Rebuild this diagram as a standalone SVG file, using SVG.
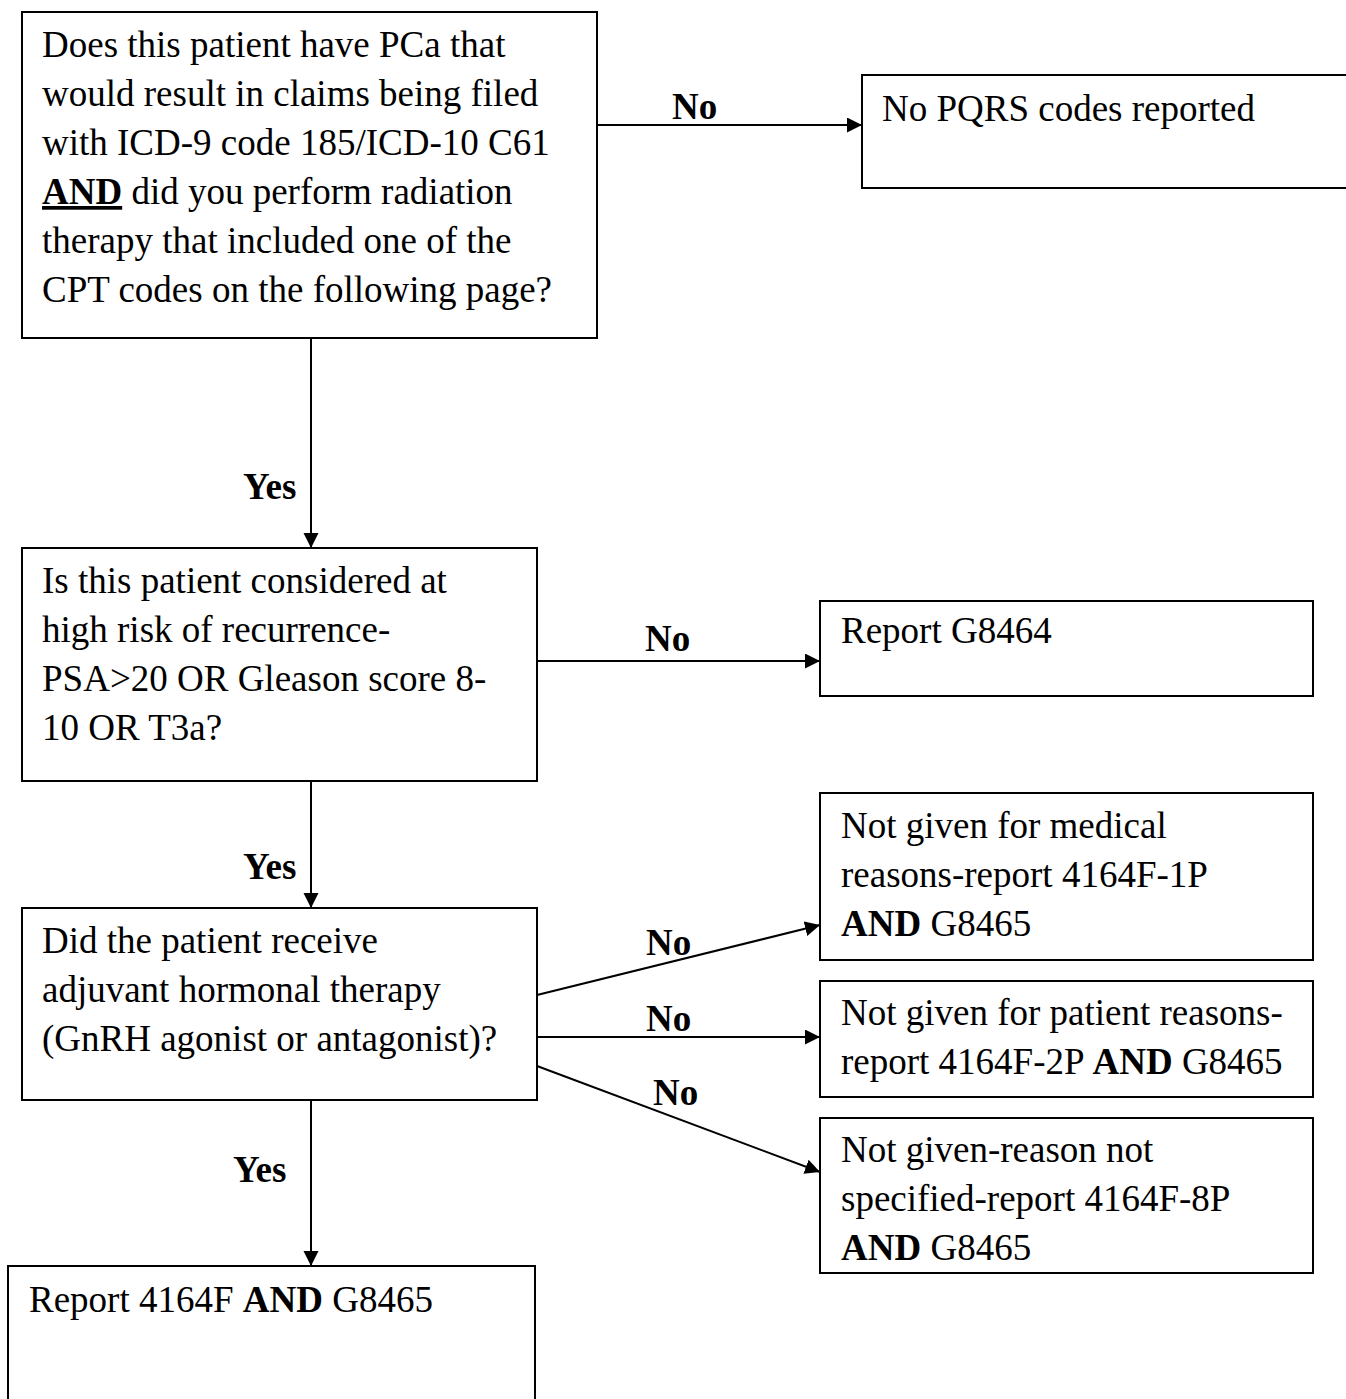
<svg xmlns="http://www.w3.org/2000/svg" width="1346" height="1399" viewBox="0 0 1346 1399">
<style>
  .box { fill: #ffffff; stroke: #000000; stroke-width: 2; }
  .t { font-family: "Liberation Serif", "Times New Roman", serif; font-size: 37px; fill: #000000; }
  .lbl { font-family: "Liberation Serif", "Times New Roman", serif; font-size: 37px; font-weight: bold; fill: #000000; }
  .b { font-weight: bold; }
  .edge { stroke: #000000; stroke-width: 2; fill: none; marker-end: url(#arrow); }
</style>
<defs>
  <marker id="arrow" markerUnits="userSpaceOnUse" markerWidth="16" markerHeight="16" refX="15" refY="7.5" orient="auto">
    <path d="M0,0 L15,7.5 L0,15 Z" fill="#000000"/>
  </marker>
</defs>
<rect width="1346" height="1399" fill="#ffffff"/>

<g id="connectors">
  <line class="edge" x1="597" y1="125" x2="862" y2="125"/>
  <line class="edge" x1="311" y1="338" x2="311" y2="548"/>
  <line class="edge" x1="537" y1="661" x2="820" y2="661"/>
  <line class="edge" x1="311" y1="781" x2="311" y2="908"/>
  <line class="edge" x1="537" y1="995" x2="820" y2="925"/>
  <line class="edge" x1="537" y1="1037" x2="820" y2="1037"/>
  <line class="edge" x1="537" y1="1066" x2="820" y2="1172"/>
  <line class="edge" x1="311" y1="1100" x2="311" y2="1266"/>
  <text class="lbl" x="672" y="119">No</text>
  <text class="lbl" x="243" y="499">Yes</text>
  <text class="lbl" x="645" y="651">No</text>
  <text class="lbl" x="243" y="879">Yes</text>
  <text class="lbl" x="646" y="955">No</text>
  <text class="lbl" x="646" y="1031">No</text>
  <text class="lbl" x="653" y="1105">No</text>
  <text class="lbl" x="233" y="1182">Yes</text>
</g>

<g id="q1">
  <rect class="box" x="22" y="12" width="575" height="326"/>
  <text class="t" x="42" y="57">Does this patient have PCa that</text>
  <text class="t" x="42" y="106">would result in claims being filed</text>
  <text class="t" x="42" y="155">with ICD-9 code 185/ICD-10 C61</text>
  <text class="t" x="42" y="204"><tspan class="b" text-decoration="underline">AND</tspan> did you perform radiation</text>
  <text class="t" x="42" y="253">therapy that included one of the</text>
  <text class="t" x="42" y="302">CPT codes on the following page?</text>
</g>

<g id="no-pqrs">
  <rect class="box" x="862" y="75" width="500" height="113"/>
  <text class="t" x="882" y="121">No PQRS codes reported</text>
</g>

<g id="q2">
  <rect class="box" x="22" y="548" width="515" height="233"/>
  <text class="t" x="42" y="593">Is this patient considered at</text>
  <text class="t" x="42" y="642">high risk of recurrence-</text>
  <text class="t" x="42" y="691">PSA&gt;20 OR Gleason score 8-</text>
  <text class="t" x="42" y="740">10 OR T3a?</text>
</g>

<g id="g8464">
  <rect class="box" x="820" y="601" width="493" height="95"/>
  <text class="t" x="841" y="643">Report G8464</text>
</g>

<g id="q3">
  <rect class="box" x="22" y="908" width="515" height="192"/>
  <text class="t" x="42" y="953">Did the patient receive</text>
  <text class="t" x="42" y="1002">adjuvant hormonal therapy</text>
  <text class="t" x="42" y="1051">(GnRH agonist or antagonist)?</text>
</g>

<g id="medical">
  <rect class="box" x="820" y="793" width="493" height="167"/>
  <text class="t" x="841" y="838">Not given for medical</text>
  <text class="t" x="841" y="887">reasons-report 4164F-1P</text>
  <text class="t" x="841" y="936"><tspan class="b">AND</tspan> G8465</text>
</g>

<g id="patient">
  <rect class="box" x="820" y="981" width="493" height="116"/>
  <text class="t" x="841" y="1025">Not given for patient reasons-</text>
  <text class="t" x="841" y="1074">report 4164F-2P <tspan class="b">AND</tspan> G8465</text>
</g>

<g id="unspecified">
  <rect class="box" x="820" y="1118" width="493" height="155"/>
  <text class="t" x="841" y="1162">Not given-reason not</text>
  <text class="t" x="841" y="1211">specified-report 4164F-8P</text>
  <text class="t" x="841" y="1260"><tspan class="b">AND</tspan> G8465</text>
</g>

<g id="given">
  <rect class="box" x="8" y="1266" width="527" height="160"/>
  <text class="t" x="29" y="1312">Report 4164F <tspan class="b">AND</tspan> G8465</text>
</g>
</svg>
